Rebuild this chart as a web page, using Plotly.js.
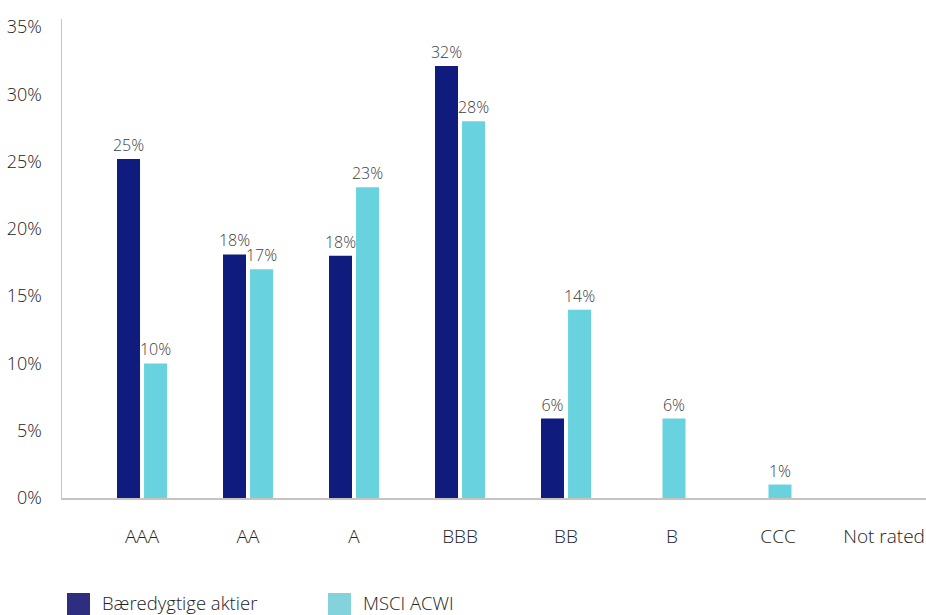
<!DOCTYPE html>
<html>
<head>
<meta charset="utf-8">
<script src="https://cdn.plot.ly/plotly-3.0.1.min.js"></script>
<style>html,body{margin:0;padding:0;background:#fff;}#chart{width:926px;height:615px;}</style>
</head>
<body>
<div id="chart"></div>
<script>
const categories = ['AAA', 'AA', 'A', 'BBB', 'BB', 'B', 'CCC', 'Not rated'];
const sustainable = [25.2, 18.1, 18.0, 32.1, 5.9, 0, 0, 0];
const msci = [10.0, 17.0, 23.1, 28.0, 14.0, 5.9, 1.0, 0];
const seriesNames = ['Bæredygtige aktier', 'MSCI ACWI'];
const yTicks = [0, 5, 10, 15, 20, 25, 30, 35];

const navyColor = '#0f1c7e';
const cyanColor = '#68d3df';
const legendColors = ['#2e2e80', '#84d2db'];
const fontFamily = '"Open Sans", "Noto Sans", sans-serif';

const fmt = v => v > 0 ? Math.round(v) + '%' : '';

const traces = [
  {
    type: 'bar', x: categories, y: sustainable, name: seriesNames[0],
    marker: {color: navyColor}, width: 0.217, offset: -0.236,
    text: sustainable.map(fmt), textposition: 'outside', constraintext: 'none',
    textfont: {family: fontFamily, size: 16, color: '#3c3c3c', weight: 300}, cliponaxis: false,
    hoverinfo: 'x+y', showlegend: false
  },
  {
    type: 'bar', x: categories, y: msci, name: seriesNames[1],
    marker: {color: cyanColor}, width: 0.217,
    offset: sustainable.map(v => v > 0 ? 0.019 : -0.09),
    text: msci.map(fmt), textposition: 'outside', constraintext: 'none',
    textfont: {family: fontFamily, size: 16, color: '#3c3c3c', weight: 300}, cliponaxis: false,
    hoverinfo: 'x+y', showlegend: false
  }
];

const legendItems = [{sq: 5, tx: 38}, {sq: 266, tx: 299}];
const shapes = legendItems.map((it, i) => ({
  type: 'rect', xref: 'paper', yref: 'paper', xsizemode: 'pixel', ysizemode: 'pixel',
  xanchor: 0, yanchor: 0, x0: it.sq, x1: it.sq + 23, y0: -95, y1: -118,
  fillcolor: legendColors[i], line: {width: 0}
}));
const annotations = legendItems.map((it, i) => ({
  xref: 'paper', yref: 'paper', x: 0, y: 0, xanchor: 'left', yanchor: 'middle',
  xshift: it.tx, yshift: -104, showarrow: false, text: seriesNames[i],
  font: {family: fontFamily, size: 18.5, color: '#222', weight: 300}
}));

const layout = {
  width: 926, height: 615,
  margin: {l: 62, r: 0, t: 19, b: 117},
  paper_bgcolor: '#fff', plot_bgcolor: '#fff',
  barmode: 'overlay',
  font: {family: fontFamily, color: '#222', weight: 300},
  showlegend: false,
  xaxis: {
    type: 'category', range: [-0.755, 7.396], showgrid: false, zeroline: false,
    showline: true, linecolor: '#c8c3be', linewidth: 1.5,
    ticks: '', ticklabelstandoff: 21,
    tickfont: {family: fontFamily, size: 19, color: '#222', weight: 300}
  },
  yaxis: {
    range: [0, 35.6], tickvals: yTicks, ticktext: yTicks.map(v => v + '%'),
    showgrid: false, zeroline: false, showline: true, linecolor: '#c8c3be', linewidth: 1.5,
    ticks: '', ticklabelstandoff: 15,
    tickfont: {family: fontFamily, size: 18, color: '#222', weight: 300}
  },
  shapes: shapes,
  annotations: annotations
};

Plotly.newPlot('chart', traces, layout, {displayModeBar: false, staticPlot: true});
</script>
</body>
</html>
